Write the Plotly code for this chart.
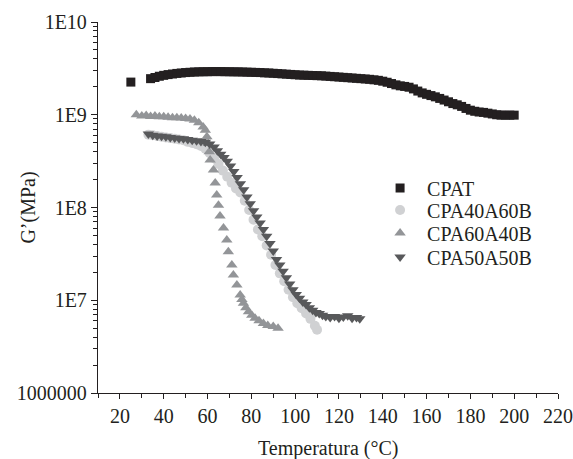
import plotly.graph_objects as go

# ---------------- data ----------------
cpat_x = [25, 34, 36, 38, 40, 42, 44, 46, 48, 50, 52, 54, 56, 58, 60, 62, 64, 66, 68, 70,
          72, 74, 76, 78, 80, 82, 84, 86, 88, 90, 92, 94, 96, 98, 100, 102, 104, 106, 108, 110,
          112, 114, 116, 118, 120, 122, 124, 126, 128, 130, 132, 134, 136, 138, 140, 142, 144, 146, 148, 150,
          152, 154, 156, 158, 160, 162, 164, 166, 168, 170, 172, 174, 176, 178, 180, 182, 184, 186, 188, 190,
          192, 194, 196, 198, 200]
cpat_y = [2.25e9, 2.45e9, 2.52e9, 2.60e9, 2.66e9, 2.71e9, 2.75e9, 2.79e9, 2.82e9, 2.85e9, 2.87e9, 2.89e9, 2.90e9, 2.91e9, 2.91e9, 2.92e9, 2.92e9, 2.92e9, 2.91e9, 2.91e9,
          2.90e9, 2.90e9, 2.89e9, 2.88e9, 2.87e9, 2.86e9, 2.85e9, 2.83e9, 2.82e9, 2.80e9, 2.78e9, 2.76e9, 2.74e9, 2.72e9, 2.70e9, 2.68e9, 2.67e9, 2.66e9, 2.65e9, 2.64e9,
          2.63e9, 2.61e9, 2.59e9, 2.57e9, 2.55e9, 2.53e9, 2.51e9, 2.49e9, 2.47e9, 2.45e9, 2.43e9, 2.41e9, 2.38e9, 2.35e9, 2.30e9, 2.24e9, 2.17e9, 2.10e9, 2.05e9, 2.02e9,
          1.98e9, 1.90e9, 1.80e9, 1.72e9, 1.66e9, 1.61e9, 1.56e9, 1.50e9, 1.44e9, 1.38e9, 1.32e9, 1.28e9, 1.23e9, 1.17e9, 1.12e9, 1.09e9, 1.07e9, 1.06e9, 1.04e9, 1.02e9,
          1.00e9, 0.99e9, 0.99e9, 0.99e9, 0.99e9]

c4060_x = [33, 35, 37, 39, 41, 43, 45, 47, 49, 51, 53, 55, 57, 59, 61, 63, 65, 67, 69, 71,
           73, 75, 77, 79, 81, 83, 85, 87, 89, 91, 93, 95, 97, 99, 101, 103, 105, 107, 109, 110]
c4060_y = [6.1e8, 6.0e8, 5.9e8, 5.8e8, 5.7e8, 5.6e8, 5.5e8, 5.4e8, 5.3e8, 5.1e8, 4.95e8, 4.8e8, 4.6e8, 4.3e8, 3.85e8, 3.4e8, 2.95e8, 2.5e8, 2.15e8, 1.85e8,
           1.6e8, 1.45e8, 1.18e8, 9.4e7, 7.4e7, 5.8e7, 4.9e7, 3.9e7, 3.1e7, 2.4e7, 1.95e7, 1.6e7, 1.3e7, 1.08e7, 9.3e6, 8.2e6, 7.2e6, 6.3e6, 5.3e6, 4.8e6]

c6040_x = [27.5, 30, 32, 34, 36, 38, 40, 42, 44, 46, 48, 50, 52, 54, 56, 58, 59, 59.7, 60.3, 60.8,
           61.2, 62.7, 63.5, 64.2, 65.0, 65.7, 67.3, 68.8, 69.5, 71.1, 71.8, 73.4, 74.9, 75.7, 76.4, 77.5, 78.7, 80.2, 81.7, 83.5,
           85.5, 87.5, 90, 92.2]
c6040_y = [1.00e9, 0.97e9, 0.98e9, 0.96e9, 0.97e9, 0.95e9, 0.95e9, 0.94e9, 0.93e9, 0.93e9, 0.92e9, 0.91e9, 0.90e9, 0.87e9, 0.82e9, 0.74e9, 0.68e9, 0.58e9, 0.49e9, 0.40e9,
           3.25e8, 2.54e8, 1.84e8, 1.36e8, 1.06e8, 8.1e7, 6.0e7, 4.47e7, 3.34e7, 2.40e7, 1.87e7, 1.46e7, 1.14e7, 1.02e7, 9.3e6, 8.3e6, 7.5e6, 6.9e6, 6.4e6, 6.0e6,
           5.6e6, 5.35e6, 5.2e6, 5.0e6]

c5050_x = [33, 35, 37, 39, 41, 43, 45, 47, 49, 51, 53, 55, 57, 59, 61, 63, 64.5, 66, 67.5, 69,
           70.5, 72, 73.5, 75, 76.5, 78, 79.5, 81, 82.5, 84, 85.5, 87, 88.5, 90, 91.5, 93, 94.5, 96, 97.5, 99,
           100.5, 102, 103.5, 105, 106.5, 108, 109.5, 111, 112.5, 114, 116, 118, 120, 122, 124, 126, 128, 129.5]
c5050_y = [6.2e8, 6.0e8, 5.9e8, 5.85e8, 5.8e8, 5.7e8, 5.6e8, 5.55e8, 5.5e8, 5.4e8, 5.3e8, 5.25e8, 5.15e8, 5.05e8, 4.85e8, 4.5e8, 4.1e8, 3.75e8, 3.45e8, 3.15e8,
           2.8e8, 2.45e8, 2.1e8, 1.8e8, 1.55e8, 1.3e8, 1.1e8, 9.2e7, 7.9e7, 6.8e7, 5.8e7, 4.9e7, 4.1e7, 3.4e7, 2.75e7, 2.4e7, 2.05e7, 1.75e7, 1.5e7, 1.3e7,
           1.15e7, 1.05e7, 9.6e6, 9.0e6, 8.3e6, 7.8e6, 7.4e6, 7.2e6, 6.9e6, 6.7e6, 6.5e6, 6.7e6, 6.4e6, 6.6e6, 6.8e6, 6.4e6, 6.5e6, 6.3e6]

series_names = ["CPAT", "CPA40A60B", "CPA60A40B", "CPA50A50B"]

y_tickvals = [1e6, 1e7, 1e8, 1e9, 1e10]
y_ticktext = ["1000000", "1E7", "1E8", "1E9", "1E10"]
y_minorvals = [m * 10 ** e for e in range(6, 10) for m in range(2, 10)]
x_tickvals = [20, 40, 60, 80, 100, 120, 140, 160, 180, 200, 220]

# ---------------- style ----------------
FONT = "Liberation Serif, Times New Roman, serif"
INK = "#231f20"
FS = 20

fig = go.Figure()
fig.add_trace(go.Scatter(x=cpat_x, y=cpat_y, mode="markers", name=series_names[0], legend="legend",
                         marker=dict(symbol="square", size=9, color="#231f20", line=dict(width=0))))
fig.add_trace(go.Scatter(x=c4060_x, y=c4060_y, mode="markers", name=series_names[1], legend="legend2",
                         marker=dict(symbol="circle", size=10, color="#d0d1d3", line=dict(width=0))))
fig.add_trace(go.Scatter(x=c6040_x, y=c6040_y, mode="markers", name=series_names[2], legend="legend3",
                         marker=dict(symbol="triangle-up", size=10, color="#939598", line=dict(width=0))))
fig.add_trace(go.Scatter(x=c5050_x, y=c5050_y, mode="markers", name=series_names[3], legend="legend4",
                         marker=dict(symbol="triangle-down", size=10, color="#58595b", line=dict(width=0))))

def leg(y):
    return dict(x=0.598, y=y, xanchor="left", yanchor="middle", itemwidth=44,
                bgcolor="rgba(0,0,0,0)", borderwidth=0,
                font=dict(family=FONT, size=FS, color=INK))

fig.update_layout(
    width=573, height=459,
    margin=dict(l=98, r=15, t=22, b=66),
    paper_bgcolor="white", plot_bgcolor="white",
    font=dict(family=FONT, size=FS, color=INK),
    showlegend=True,
    legend=leg(0.5526), legend2=leg(0.4933), legend3=leg(0.4313), legend4=leg(0.3666),
    xaxis=dict(range=[10, 220], showgrid=False, zeroline=False, automargin=False,
               showline=True, linecolor=INK, linewidth=1.3,
               tickmode="array", tickvals=x_tickvals,
               ticks="outside", ticklen=5, tickwidth=1.3, tickcolor=INK,
               minor=dict(tickmode="linear", tick0=10, dtick=20, ticks="outside",
                          ticklen=4, tickwidth=1.2, tickcolor=INK),
               tickfont=dict(family=FONT, size=FS, color=INK)),
    yaxis=dict(type="log", range=[6, 10], showgrid=False, zeroline=False, automargin=False,
               showline=True, linecolor=INK, linewidth=1.3,
               tickmode="array", tickvals=y_tickvals, ticktext=y_ticktext,
               ticks="outside", ticklen=6, tickwidth=1.3, tickcolor=INK,
               minor=dict(tickmode="array", tickvals=y_minorvals, ticks="outside",
                          ticklen=4, tickwidth=1.2, tickcolor=INK),
               tickfont=dict(family=FONT, size=FS, color=INK)),
    annotations=[
        dict(text="G’(MPa)", xref="paper", yref="paper", x=-0.152, y=0.5,
             xanchor="center", yanchor="middle", textangle=-90, showarrow=False,
             font=dict(family=FONT, size=FS, color=INK)),
        dict(text="Temperatura (°C)", xref="paper", yref="paper", x=0.5, y=-0.15,
             xanchor="center", yanchor="middle", showarrow=False,
             font=dict(family=FONT, size=FS, color=INK)),
    ],
)

fig.write_html("out.html", config={"displayModeBar": False},
               post_script="document.body.style.margin='0';document.body.style.overflow='hidden';")
